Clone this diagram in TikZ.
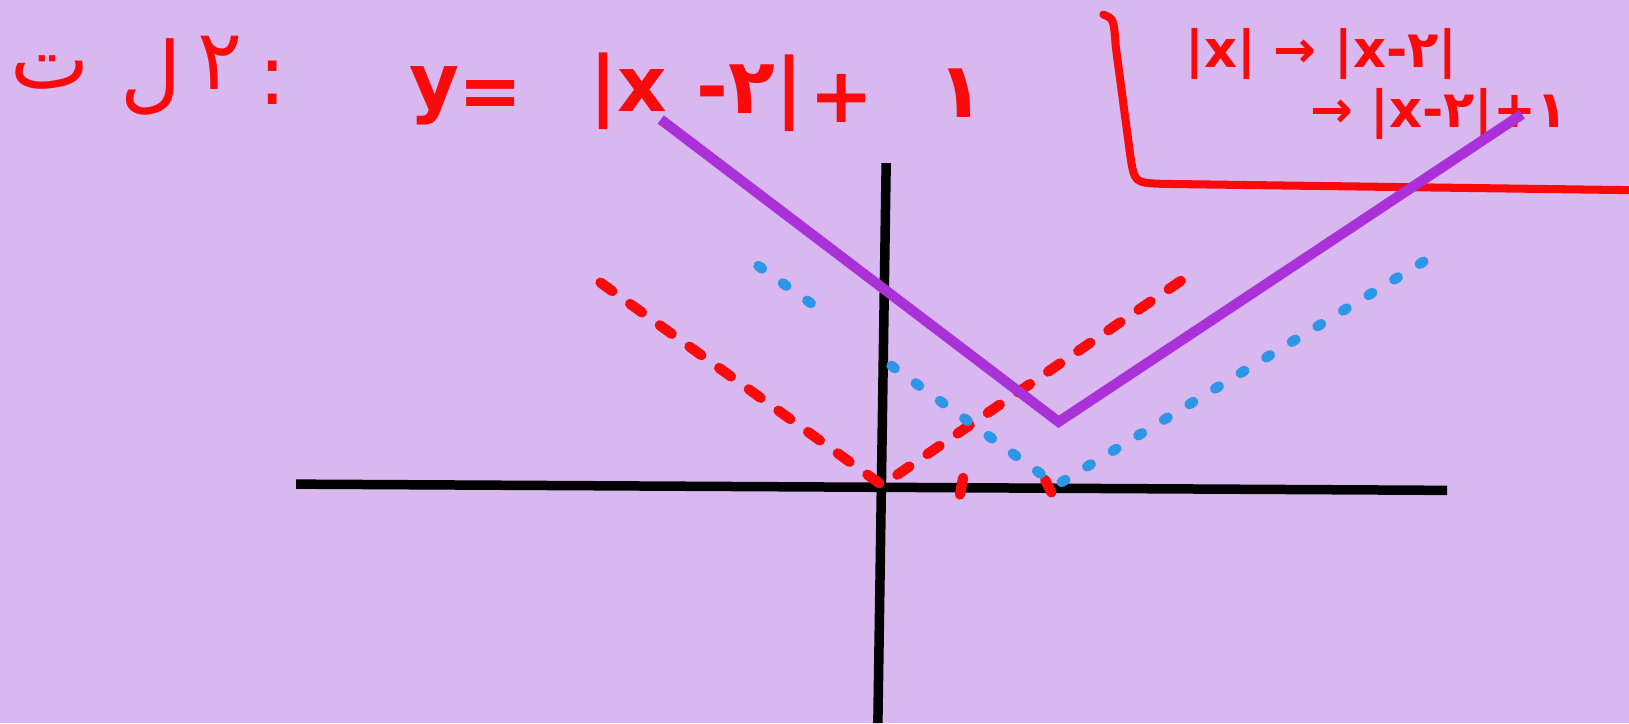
\documentclass[tikz,border=0pt]{standalone}
\usepackage{fontspec}
\TeXXeTstate=1
\newfontfamily\hand{DejaVu Sans}
\newfontfamily\arabicfont[Script=Arabic]{DejaVu Sans}
\definecolor{bg}{RGB}{217,184,240}
\definecolor{inkred}{RGB}{250,10,10}
\definecolor{inkpurple}{RGB}{170,48,215}
\definecolor{inkblue}{RGB}{45,150,230}
\tikzset{
  axis/.style={line width=2.6pt, black},
  graphline/.style={line width=2.8pt, inkpurple},
  reddash/.style={line width=2.8pt, inkred, line cap=round, dash pattern=on 4pt off 6pt},
  bluedot/.style={line width=2.8pt, inkblue, line cap=round, dash pattern=on 1.2pt off 7pt},
  bracketline/.style={line width=2.2pt, inkred, line cap=round},
  eq/.style={inkred, font=\hand\bfseries\fontsize{21}{21}\selectfont, inner sep=0pt},
  note/.style={inkred, font=\hand\bfseries\fontsize{14}{14}\selectfont, inner sep=0pt},
  ar/.style={inkred, font=\arabicfont\fontsize{23}{23}\selectfont, inner sep=0pt}
}
\begin{document}
\begin{tikzpicture}[x=0.01cm, y=-0.01cm]
\fill[bg] (0,0) rectangle (1568,696);
\useasboundingbox (0,0) rectangle (1568,696);
% title
\node[ar] (t1) at (48,70) {\beginR ت\endR};
\node[ar] (t2) at (145,74) {\beginR ل\endR};
\node[ar] (t3) at (212,60) {۲};
\node[ar] (t4) at (262,80) {:};
% equation
\node[eq] (e1) at (418,92) {y};
\node[eq] (e2) at (472,95) {=};
\node[eq] (e3) at (605,88) {|x};
\node[eq] (e4) at (722,90) {-۲|};
\node[eq] (e5) at (810,95) {+};
\node[eq] (e6) at (925,90) {۱};
% notes
\node[note] (n1) at (1272,52) {|x| → |x-۲|};
\node[note] (n2) at (1385,110) {→ |x-۲|+۱};
% bracket
\coordinate (b1) at (1062,14);
\coordinate (b3) at (1568,183);
\draw[bracketline] (b1) .. controls (1072,18) .. (1074,45) -- (1088,150) .. controls (1092,176) .. (1120,177) -- (b3);
% axes
\coordinate (xl) at (285,466);
\coordinate (xr) at (1393,472);
\coordinate (yt) at (853,157);
\coordinate (yb) at (845,696);
\draw[axis] (xl) -- (xr);
\draw[axis] (yt) -- (yb);
% red |x|
\coordinate (r0) at (849,467);
\coordinate (rl) at (578,272);
\coordinate (rr) at (1140,268);
\draw[reddash] (rl) -- (r0) -- (rr);
\coordinate (rm1) at (927,460);
\coordinate (rm2) at (924,476);
\draw[reddash, dash pattern=] (rm1) -- (rm2);
\coordinate (rm3) at (1006,462);
\coordinate (rm4) at (1012,474);
\draw[reddash, dash pattern=] (rm3) -- (rm4);
% blue |x-2|
\coordinate (bv) at (1017,467);
\coordinate (bl1) at (730,256);
\coordinate (bl2) at (792,300);
\coordinate (bl3) at (858,352);
\coordinate (br) at (1388,241);
\draw[bluedot] (bl1) -- (bl2);
\draw[bluedot] (bl3) -- (bv) -- (br);
% purple |x-2|+1
\coordinate (p1) at (636,115);
\coordinate (pv) at (1019,406);
\coordinate (p2) at (1465,110);
\draw[graphline] (p1) -- (pv) -- (p2);
\end{tikzpicture}
\end{document}
